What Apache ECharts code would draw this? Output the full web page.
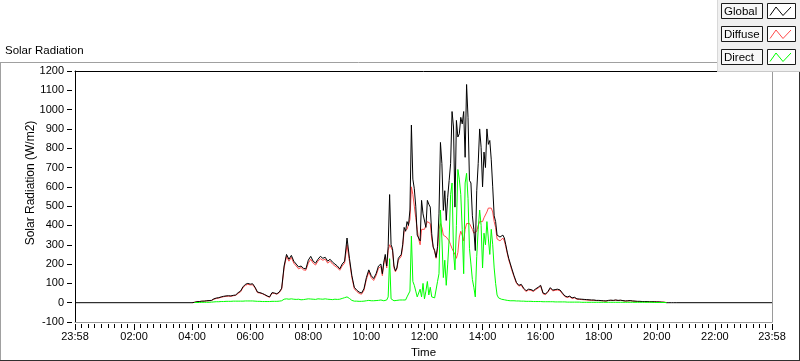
<!DOCTYPE html>
<html><head><meta charset="utf-8">
<script src="https://cdn.jsdelivr.net/npm/echarts@6/dist/echarts.min.js"></script>
<style>html,body{margin:0;padding:0;background:#fff}#c{width:800px;height:361px}</style>
</head><body><div id="c"></div>
<script>
// ---- series meta ----
const seriesNames = ['Global', 'Diffuse', 'Direct'];
const seriesColors = ['#000000', '#ff4a4a', '#00ff00'];

// ---- sampling segments (minutes since midnight) ----
const segAStart = 240, segAStep = 5;   // 04:00 .. 10:30
const segBStart = 633, segBStep = 3;   // 10:33 .. 15:00
const segCStart = 905, segCStep = 5;   // 15:05 .. 20:40

// ---- Global (W/m2) ----
const globalA = [0,2,5,6,8,8,10,11,12,20, 24,26,30,33,35,36,35,38,40,52, 60,82,95,100,96,98,80,55,52,48,
  42,35,30,52,50,46,55,75,190,250, 225,245,215,200,185,190,178,175,220,240, 215,205,225,240,230,235,215,225,210,200,
  190,175,200,215,335,230,140,80,65,55, 50,72,130,170,140,125,150,190,200];
const globalB = [150,210,250,190,290,560,300,280,190,165, 180,230,235,250,300,390,370,420,400,480,
  920,640,590,500,350,340,320,530,460,470, 390,530,510,495,357,288,270,235,290,460,
  830,720,478,580,426,546,633,720,990,910, 495,944,858,875,960,926,990,753,1130,960,
  633,620,450,380,270,580,720,900,805,600, 780,700,900,820,840,740,600,450,420,350,
  345,340,345,350,335,300,262,230,205,180];
const globalC = [140,105,90,95,75,62,70,68,62,72, 80,90,50,45,58,78,65,68,70,66, 50,35,30,34,25,28,20,19,18,17,
  16,15,14,14,12,12,11,10,9,12, 13,12,14,12,13,11,9,10,11,9, 8,7,7,6,6,6,5,5,5,4, 4,3,2,0,0,0,0,0];

// ---- Diffuse (W/m2) ----
const diffuseA = [0,2,5,6,7,8,9,10,11,18, 22,24,28,31,33,34,33,36,38,48, 56,78,90,95,92,93,76,52,50,46,
  40,33,28,50,48,44,52,70,180,240, 215,235,205,190,175,182,170,168,205,225, 205,195,215,228,220,225,205,215,200,190,
  182,168,190,205,300,215,130,72,58,48, 44,64,120,160,130,115,140,178,188];
const diffuseB = [140,200,235,180,270,300,285,270,180,160, 175,220,225,240,290,370,360,380,370,430,
  600,560,500,440,380,330,300,380,390,380, 370,420,430,410,330,290,265,230,280,380,
  410,390,350,360,340,330,320,300,280,290, 250,230,260,340,370,350,320,380,410,420,
  410,400,380,360,350,370,400,420,430,420, 440,450,470,490,500,490,470,420,390,330,
  320,320,330,335,320,290,255,222,198,172];
const diffuseC = [135,100,86,90,70,58,66,64,58,68, 76,86,46,42,54,74,61,64,66,62, 46,32,27,31,22,25,18,17,16,15,
  14,13,12,12,11,11,10,9,8,11, 12,11,13,11,12,10,8,9,10,8, 7,6,6,6,5,5,5,5,5,4, 4,3,3,1,null,null,null,null];

// ---- Direct (W/m2) ----
const directA = [null,1,1,1,2,2,2,2,3,4, 5,5,6,6,7,7,7,8,8,8, 8,8,9,9,9,9,8,7,7,6,
  6,6,6,7,7,7,8,10,18,20, 18,20,18,17,18,15,16,18,20,19, 18,17,20,19,18,20,18,17,16,18,
  17,18,22,26,30,22,12,8,8,7, 7,8,10,12,10,10,11,12,14];
const directB = [12,10,12,14,30,228,20,12,10,10, 12,12,14,12,14,16,14,30,40,60,
  345,110,90,60,30,25,70,30,100,20, 60,110,40,80,30,20,25,30,110,150,
  480,330,130,220,90,200,330,560,620,260, 170,400,690,640,560,380,150,620,670,540,
  280,200,120,80,30,240,380,480,400,180, 360,300,420,330,250,380,300,180,100,40,
  25,20,18,16,15,14,12,12,10,10];
const directC = [10,9,9,8,8,7,7,7,6,6, 6,6,5,5,5,5,5,4,4,4, 4,4,3,3,3,3,3,3,2,2,
  2,2,2,2,2,2,2,2,2,2, 2,2,2,2,2,2,2,2,2,2, 2,2,2,2,2,2,2,2,1,1, 1,1,1,1,null,null,null,null];

const nightValue = 0;

// ---- axes ----
const xTickMinutes = [-2,120,240,360,480,600,720,840,960,1080,1200,1320,1438];
const xTickLabels = ['23:58','02:00','04:00','06:00','08:00','10:00','12:00','14:00','16:00','18:00','20:00','22:00','23:58'];
const yMin = -100, yMax = 1200, yStep = 100;
const xMin = xTickMinutes[0], xMax = xTickMinutes[xTickMinutes.length - 1];

function seg(start, step, vals) { return vals.map((v, i) => [start + i * step, v]); }
const globalData = [[xMin, nightValue]].concat(seg(segAStart, segAStep, globalA), seg(segBStart, segBStep, globalB), seg(segCStart, segCStep, globalC), [[xMax, nightValue]]);
const diffuseData = [].concat(seg(segAStart, segAStep, diffuseA), seg(segBStart, segBStep, diffuseB), seg(segCStart, segCStep, diffuseC));
const directData = [].concat(seg(segAStart, segAStep, directA), seg(segBStart, segBStep, directB), seg(segCStart, segCStep, directC));

const minorTicks = [];
for (let i = 0; i < xTickMinutes.length - 1; i++) {
  const a = xTickMinutes[i], b = xTickMinutes[i + 1];
  for (let k = 1; k < 9; k++) minorTicks.push(a + (b - a) * k / 9);
}

const FONT = 'Liberation Sans, Arial, sans-serif';
const chart = echarts.init(document.getElementById('c'), null, { renderer: 'canvas' });

function lbl(v) {
  const i = xTickMinutes.indexOf(v);
  return i >= 0 ? xTickLabels[i] : '';
}

const grid = { left: 75, top: 71, width: 697, height: 251, outerBoundsMode: 'none', containLabel: false };
const baseX = { type: 'value', min: xMin, max: xMax, splitLine: { show: false } };
const baseY = { type: 'value', min: yMin, max: yMax, interval: yStep, splitLine: { show: false } };

// legend graphics
const legendEls = [
  { type: 'rect', shape: { x: 717, y: 0, width: 83, height: 72 }, style: { fill: '#f0f0f0', stroke: null }, z: 100 },
  { type: 'line', shape: { x1: 717.5, y1: 0, x2: 717.5, y2: 72 }, style: { stroke: '#d8d8d8', lineWidth: 1 }, z: 101 },
  { type: 'line', shape: { x1: 717, y1: 71.5, x2: 800, y2: 71.5 }, style: { stroke: '#c8c8c8', lineWidth: 1 }, z: 101 }
];
seriesNames.forEach((name, i) => {
  const y0 = 3.5 + i * 23;
  legendEls.push({ type: 'rect', shape: { x: 721.5, y: y0, width: 41, height: 15 }, style: { fill: '#f7f7f7', stroke: '#1a1a1a', lineWidth: 1 }, z: 102 });
  legendEls.push({ type: 'text', x: 724, y: y0 + 8, style: { text: name, font: '11.5px ' + FONT, fill: '#000', verticalAlign: 'middle', align: 'left' }, z: 103 });
  legendEls.push({ type: 'rect', shape: { x: 767.5, y: y0, width: 28, height: 15 }, style: { fill: '#ffffff', stroke: '#1a1a1a', lineWidth: 1 }, z: 102 });
  legendEls.push({ type: 'polyline', shape: { points: [[770, y0 + 12], [776, y0 + 3.5], [783, y0 + 12], [791, y0 + 3.5]] }, style: { stroke: seriesColors[i], lineWidth: 1, fill: null }, z: 103 });
});

const option = {
  animation: false,
  backgroundColor: '#ffffff',
  grid: grid,
  xAxis: [
    Object.assign({}, baseX, { position: 'bottom', axisLine: { show: true, onZero: false, lineStyle: { color: '#9a9a9a', width: 1 } }, axisTick: { show: false }, axisLabel: { show: false },
      name: 'Time', nameLocation: 'middle', nameGap: 25, nameTextStyle: { fontFamily: FONT, fontSize: 11.5, color: '#000' } }),
    Object.assign({}, baseX, { position: 'bottom', offset: 2, axisLine: { show: false, onZero: false }, axisTick: { show: true, customValues: xTickMinutes, length: 6, lineStyle: { color: '#000' } },
      axisLabel: { show: true, customValues: xTickMinutes, formatter: lbl, margin: 7, fontFamily: FONT, fontSize: 11, color: '#000', showMinLabel: true, showMaxLabel: true, hideOverlap: false } }),
    Object.assign({}, baseX, { position: 'bottom', offset: 2, axisLine: { show: false, onZero: false }, axisTick: { show: true, customValues: minorTicks, length: 4, lineStyle: { color: '#000' } }, axisLabel: { show: false } }),
    Object.assign({}, baseX, { position: 'top', axisLine: { show: true, onZero: false, lineStyle: { color: '#000' } }, axisTick: { show: false }, axisLabel: { show: false } })
  ],
  yAxis: [
    Object.assign({}, baseY, { position: 'left', axisLine: { show: true, onZero: false, lineStyle: { color: '#000' } }, axisTick: { show: false }, axisLabel: { show: false } }),
    Object.assign({}, baseY, { position: 'left', offset: 3, axisLine: { show: false, onZero: false }, axisTick: { show: true, length: 5, lineStyle: { color: '#000' } },
      axisLabel: { show: true, margin: 8, fontFamily: FONT, fontSize: 11, color: '#000', showMinLabel: true, showMaxLabel: true, formatter: v => String(v) } }),
    Object.assign({}, baseY, { position: 'right', axisLine: { show: true, onZero: false, lineStyle: { color: '#9a9a9a' } }, axisTick: { show: false }, axisLabel: { show: false } })
  ],
  series: [
    { name: seriesNames[1], type: 'line', data: diffuseData, showSymbol: false, symbol: 'none', lineStyle: { color: seriesColors[1], width: 1 }, itemStyle: { color: seriesColors[1] }, connectNulls: false, silent: true },
    { name: seriesNames[0], type: 'line', data: globalData, showSymbol: false, symbol: 'none', lineStyle: { color: seriesColors[0], width: 1 }, itemStyle: { color: seriesColors[0] }, silent: true },
    { name: seriesNames[2], type: 'line', data: directData, showSymbol: false, symbol: 'none', lineStyle: { color: seriesColors[2], width: 1 }, itemStyle: { color: seriesColors[2] }, connectNulls: false, silent: true }
  ],
  graphic: [
    { type: 'line', shape: { x1: 0, y1: 62.5, x2: 717, y2: 62.5 }, style: { stroke: '#a0a0a0', lineWidth: 1 }, z: 50 },
    { type: 'line', shape: { x1: 0.5, y1: 62, x2: 0.5, y2: 361 }, style: { stroke: '#a0a0a0', lineWidth: 1 }, z: 50 },
    { type: 'line', shape: { x1: 0, y1: 360.5, x2: 800, y2: 360.5 }, style: { stroke: '#303030', lineWidth: 1 }, z: 50 },
    { type: 'line', shape: { x1: 799.5, y1: 72, x2: 799.5, y2: 361 }, style: { stroke: '#303030', lineWidth: 1 }, z: 50 },
    { type: 'text', x: 5, y: 51, style: { text: 'Solar Radiation', font: '11.5px ' + FONT, fill: '#000', verticalAlign: 'middle', align: 'left' }, z: 50 },
    { type: 'text', x: 31, y: 183, rotation: Math.PI / 2, style: { text: 'Solar Radiation (W/m2)', font: '12px ' + FONT, fill: '#000', verticalAlign: 'middle', align: 'center' }, z: 50 }
  ].concat(legendEls)
};
chart.setOption(option);
</script>
</body></html>
